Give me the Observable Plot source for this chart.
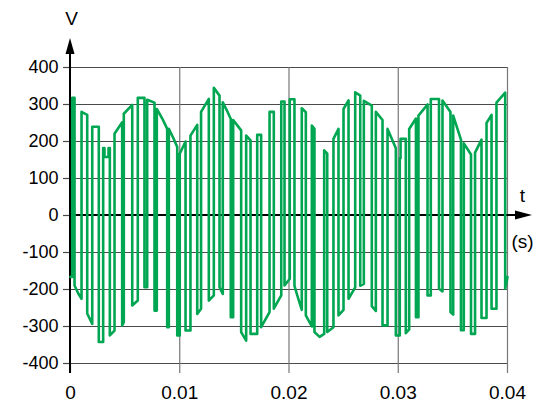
<!DOCTYPE html>
<html><head><meta charset="utf-8">
<script src="https://cdn.jsdelivr.net/npm/d3@7"></script>
<script src="https://cdn.jsdelivr.net/npm/@observablehq/plot@0.6"></script>
<style>html,body{margin:0;padding:0;background:#fff;}</style>
</head><body><div id="chart"></div>
<script>
// waveform vertices: time (ms) and voltage (V)
const tMs = [0,0.16,0.16,0.37,0.37,0.7,1.01,1.01,1.53,1.53,1.99,1.99,2.59,2.59,2.99,2.99,3.11,3.11,3.48,3.48,3.6,3.6,4.03,4.03,4.73,4.73,4.88,4.88,5.65,5.65,6.16,6.16,6.77,6.77,7.02,7.02,7.69,7.69,7.9,7.9,8.4,8.85,8.85,9.0,9.0,9.4,9.77,9.77,10.0,10.0,10.53,10.53,10.98,10.98,11.6,11.6,11.95,11.95,12.66,12.66,13.12,13.12,13.64,13.64,13.94,13.94,14.3,14.67,14.67,14.89,14.89,15.62,15.62,16.08,16.08,16.48,16.48,17.09,17.09,17.45,17.45,18.22,18.22,18.61,18.61,19.29,19.29,19.59,19.59,20.07,20.07,20.5,20.5,20.85,21.17,21.17,21.54,21.54,22.09,22.09,22.33,22.33,22.8,23.22,23.22,23.5,23.5,24.07,24.07,24.53,24.53,24.99,24.99,25.45,25.45,26.06,26.06,26.52,26.52,26.85,26.85,27.58,27.58,27.95,27.95,28.56,28.56,29.02,29.02,29.4,29.78,29.78,30.14,30.14,30.21,30.21,30.69,30.69,31.0,31.0,31.62,31.62,31.85,31.85,32.68,32.68,32.98,32.98,33.73,33.73,34.05,34.05,34.78,34.78,35.03,35.03,35.4,35.74,35.74,36.0,36.0,36.66,36.66,37.03,37.03,37.62,37.62,38.08,38.08,38.54,38.54,38.99,38.99,39.79,39.79,40];
const volts = [-166,-166,318,318,-189,-210,-225,280,272,-265,-293,240,240,-342,-342,182,182,158,158,182,182,-324,-311,221,252,-297,-288,275,299,-243,-230,318,318,-194,-194,313,305,-257,-257,288,262,234,-302,-302,234,210,185,-324,-324,167,200,-311,-311,216,245,-266,-252,280,315,-230,-216,345,324,-194,-212,306,285,261,-275,-275,258,230,-315,-338,216,203,-320,-320,218,218,-302,-261,280,280,-252,-216,308,308,-189,-171,314,314,-190,-225,-255,290,279,-270,-300,243,234,-315,-328,-320,176,167,-315,-302,207,234,-270,-255,288,311,-225,-194,333,324,-190,-185,310,297,-245,-258,280,258,-297,-297,234,208,182,-324,-324,155,155,207,207,-318,-308,234,262,-275,-275,270,300,-216,-216,315,315,-198,-205,311,280,-261,-268,270,236,205,-310,-310,195,165,-320,-320,170,205,-277,-277,250,272,-252,-252,305,332,-198,-166];
const yTicks = [-400,-300,-200,-100,0,100,200,300,400];
const xTicks = [0,0.01,0.02,0.03,0.04];
const xGrid = [0.01,0.02,0.03,0.04];
const yName = "V";
const xName = "t";
const xUnit = "(s)";

const data = tMs.map((t, i) => ({t: t / 1000, v: volts[i]}));
const font = "Liberation Sans, Arial, sans-serif";

const plot = Plot.plot({
  width: 547, height: 403,
  marginLeft: 70, marginRight: 40, marginTop: 67, marginBottom: 40,
  x: {domain: [0, 0.04]},
  y: {domain: [-400, 400]},
  style: {fontFamily: font, fontSize: "18px", color: "#000", background: "#fff", overflow: "visible"},
  marks: [
    Plot.gridY(yTicks, {stroke: "#4a4a4a", strokeOpacity: 1, strokeWidth: 1.2}),
    Plot.gridX(xGrid, {stroke: "#777", strokeOpacity: 1, strokeWidth: 1.2}),
    Plot.axisY(yTicks, {tickSize: 7, tickPadding: 5, stroke: "#4a4a4a", strokeWidth: 1.2, fill: "#000", tickFormat: d => String(d), label: null, fontSize: 18}),
    Plot.axisX(xTicks, {tickSize: 10, tickPadding: 12, stroke: "#777", strokeWidth: 1.2, fill: "#000", tickFormat: d => String(d), label: null, fontSize: 19}),
    Plot.line(data, {x: "t", y: "v", stroke: "#00a651", strokeWidth: 2.6, strokeLinejoin: "round"}),
    Plot.text([yName], {x: 0, y: 400, dx: 1, dy: -49, text: d => d, fontSize: 19, fill: "#000"}),
    Plot.text([xName], {x: 0.04, y: 0, dx: 15, dy: -20, text: d => d, fontSize: 19, fill: "#000"}),
    Plot.text([xUnit], {x: 0.04, y: 0, dx: 15, dy: 26, text: d => d, fontSize: 19, fill: "#000"})
  ]
});

document.getElementById("chart").appendChild(plot);

// axis lines with filled arrowheads, placed via the plot's own scales
const xs = plot.scale("x"), ys = plot.scale("y");
const svg = d3.select(plot);
const g = svg.insert("g", 'g[aria-label="line"]');
const x0 = xs.apply(0), y0 = ys.apply(0);
const yTop = ys.apply(400), yBot = ys.apply(-400), xEnd = xs.apply(0.04);
g.append("line").attr("x1", x0).attr("x2", x0).attr("y1", yBot + 10).attr("y2", yTop - 14)
  .attr("stroke", "#000").attr("stroke-width", 2);
g.append("line").attr("x1", x0).attr("x2", xEnd + 9).attr("y1", y0).attr("y2", y0)
  .attr("stroke", "#000").attr("stroke-width", 2);
svg.append("path").attr("d", `M${x0},${yTop - 29}L${x0 - 4.5},${yTop - 13}L${x0 + 4.5},${yTop - 13}Z`).attr("fill", "#000");
svg.append("path").attr("d", `M${xEnd + 25},${y0}L${xEnd + 8},${y0 - 4.5}L${xEnd + 8},${y0 + 4.5}Z`).attr("fill", "#000");
</script>
</body></html>
